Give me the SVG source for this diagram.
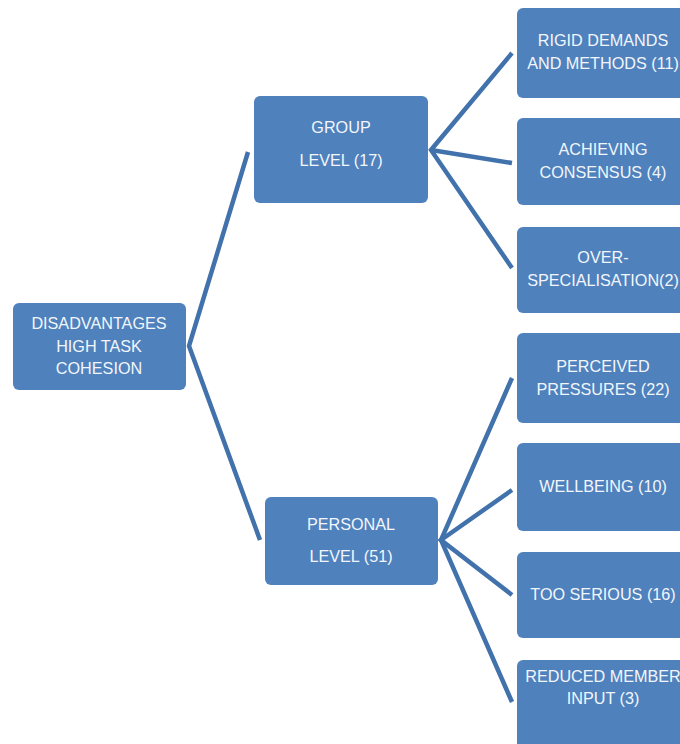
<svg xmlns="http://www.w3.org/2000/svg" width="680" height="744" viewBox="0 0 680 744">
<style>
.box{fill:#4F81BD;}
.t{font-family:"Liberation Sans",Arial,sans-serif;font-size:16.2px;fill:#F2F6FB;text-anchor:middle;}
.c{stroke:#4272AC;stroke-width:4.5;fill:none;stroke-linecap:butt;stroke-linejoin:miter;}
</style>
<rect width="680" height="744" fill="#FFFFFF"/>
<g id="connectors">
<path class="c" d="M248,152 L189,346 L260,540"/>
<path class="c" d="M512,53 L431,150 L512,268"/>
<path class="c" d="M431,150 L512,163"/>
<path class="c" d="M512,378 L441,540 L512,702"/>
<path class="c" d="M512,490 L441,540 L512,595"/>
</g>
<g id="root">
<rect class="box" x="13" y="303" width="173" height="87" rx="6"/>
<text class="t" x="99" y="329">DISADVANTAGES</text>
<text class="t" x="99" y="352">HIGH TASK</text>
<text class="t" x="99" y="374">COHESION</text>
</g>
<g id="group">
<rect class="box" x="254" y="96" width="174" height="107" rx="6"/>
<text class="t" x="341" y="133">GROUP</text>
<text class="t" x="341" y="166">LEVEL (17)</text>
</g>
<g id="personal">
<rect class="box" x="265" y="497" width="173" height="88" rx="6"/>
<text class="t" x="351" y="530">PERSONAL</text>
<text class="t" x="351" y="562">LEVEL (51)</text>
</g>
<g id="rigid">
<rect class="box" x="517" y="8" width="173" height="90" rx="6"/>
<text class="t" x="603" y="46">RIGID DEMANDS</text>
<text class="t" x="603" y="69">AND METHODS (11)</text>
</g>
<g id="achieving">
<rect class="box" x="517" y="118" width="173" height="87" rx="6"/>
<text class="t" x="603" y="155">ACHIEVING</text>
<text class="t" x="603" y="178">CONSENSUS (4)</text>
</g>
<g id="over">
<rect class="box" x="517" y="227" width="173" height="86" rx="6"/>
<text class="t" x="603" y="263">OVER-</text>
<text class="t" x="603" y="286">SPECIALISATION(2)</text>
</g>
<g id="perceived">
<rect class="box" x="517" y="333" width="173" height="90" rx="6"/>
<text class="t" x="603" y="372">PERCEIVED</text>
<text class="t" x="603" y="395">PRESSURES (22)</text>
</g>
<g id="wellbeing">
<rect class="box" x="517" y="443" width="173" height="88" rx="6"/>
<text class="t" x="603" y="492">WELLBEING (10)</text>
</g>
<g id="serious">
<rect class="box" x="517" y="552" width="173" height="86" rx="6"/>
<text class="t" x="603" y="600">TOO SERIOUS (16)</text>
</g>
<g id="reduced">
<rect class="box" x="517" y="660" width="173" height="100" rx="6"/>
<text class="t" x="603" y="682">REDUCED MEMBER</text>
<text class="t" x="603" y="704">INPUT (3)</text>
</g>
</svg>
